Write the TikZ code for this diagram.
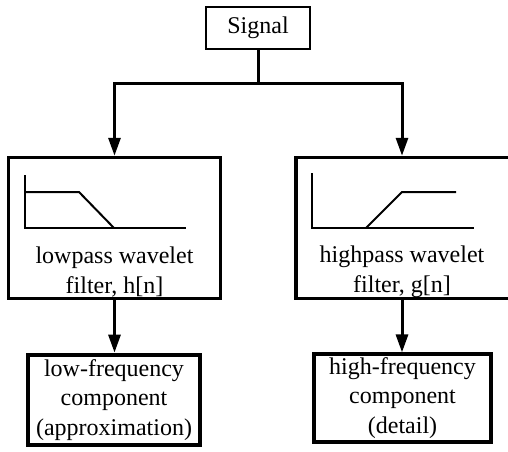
\documentclass[tikz,border=0pt]{standalone}
\usepackage{fontspec}
\setmainfont{Liberation Serif}
\usetikzlibrary{arrows.meta}
\begin{document}
\begin{tikzpicture}[x=1pt,y=-1pt,
  box/.style={draw, inner sep=0pt},
  lbl/.style={align=center, font=\fontsize{24}{29.5}\selectfont, inner sep=0pt},
  conn/.style={line width=3pt, -{Triangle[length=18pt,width=12pt]}},
  curve/.style={line width=2pt}]
\useasboundingbox (0,0) rectangle (508,451);
% boxes
\node[box, lbl, line width=2.5pt, minimum width=104pt, minimum height=42pt] (sig) at (258,28) {Signal};
\node[box, line width=3.5pt, minimum width=212pt, minimum height=141pt] (lf) at (114.5,228) {};
\node[box, line width=3.5pt, minimum width=216pt, minimum height=141pt] (hf) at (404,228) {};
\node[lbl] (lft) at (114.5,272) {lowpass wavelet\\filter, h[n]};
\node[lbl] (hft) at (402,272) {highpass wavelet\\filter, g[n]};
\node[box, lbl, line width=4.8pt, minimum width=172pt, minimum height=90pt] (lo) at (114,400) {low-frequency\\component\\(approximation)};
\node[box, lbl, line width=3.2pt, minimum width=177pt, minimum height=88pt] (hi) at (402.5,398) {high-frequency\\component\\(detail)};
% connectors
\coordinate (jy) at (0,83);
\draw[line width=3pt] (sig.south) -- (sig.south |- jy) coordinate (j);
\draw[conn] (j) -| (lf.north);
\draw[conn] (j) -| (hft.north |- hf.north);
\draw[conn] (lf.south) -- (lf.south |- lo.north);
\draw[conn] (hft.south |- hf.south) -- (hft.south |- hi.north);
% filter curves
\draw[curve] (25,175) -- (25,228) -- (186,228);
\draw[curve] (25,192) -- (79,192) -- (114,228);
\draw[curve] (312,173) -- (312,228) -- (474,228);
\draw[curve] (366,228) -- (402,192) -- (456,192);
\end{tikzpicture}
\end{document}
